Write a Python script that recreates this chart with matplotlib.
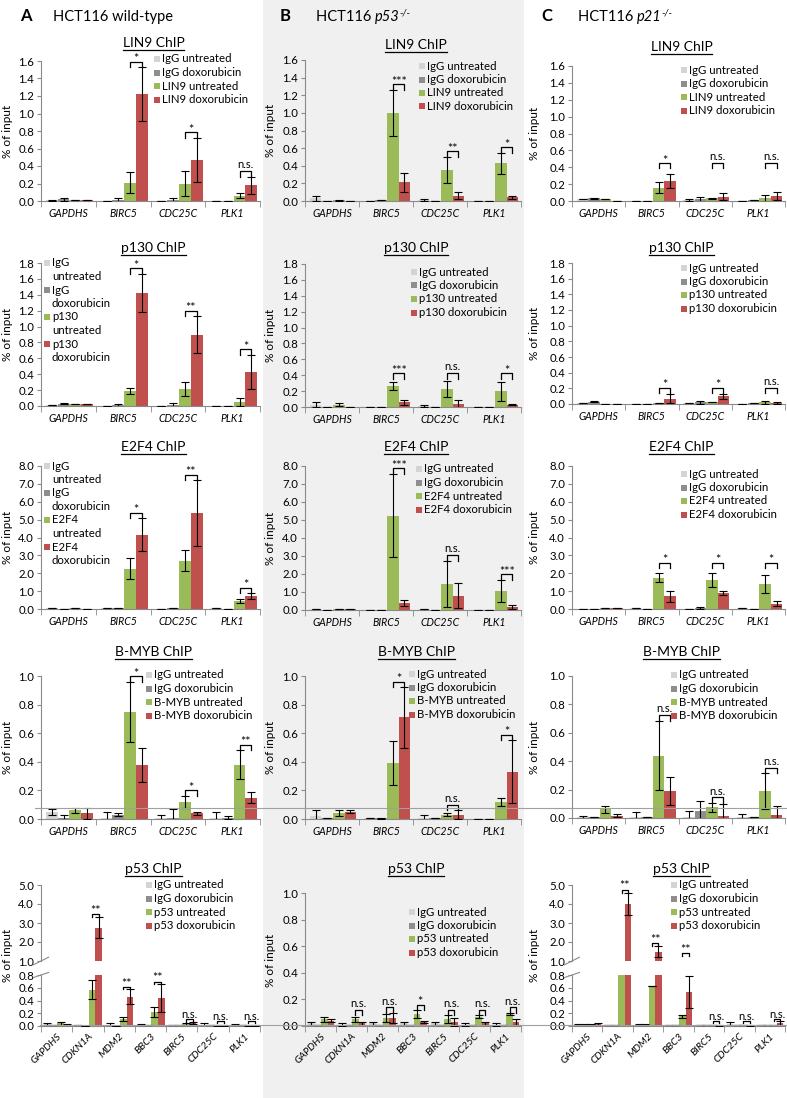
import numpy as np
import matplotlib
matplotlib.use('Agg')
import matplotlib.pyplot as plt
from matplotlib.patches import Rectangle
from matplotlib.lines import Line2D

plt.rcParams['font.family'] = ['Lato', 'DejaVu Sans']

W, H = 787, 1098

# ---- data ----
genes = ['GAPDHS', 'BIRC5', 'CDC25C', 'PLK1']
genes_p53 = ['GAPDHS', 'CDKN1A', 'MDM2', 'BBC3', 'BIRC5', 'CDC25C', 'PLK1']
series_names = ['IgG untreated', 'IgG doxorubicin', '{} untreated', '{} doxorubicin']
colors = ['#d4d4d4', '#8e8e8e', '#9bbb59', '#c0504d']

# rows: IgG untreated, IgG doxorubicin, antibody untreated, antibody doxorubicin
lin9_wt = [[0.01, 0.005, 0.005, 0.0], [0.02, 0.01, 0.01, 0.0], [0.01, 0.21, 0.20, 0.06], [0.01, 1.22, 0.47, 0.18]]
lin9_wt_err = [[0.005, 0.0, 0.0, 0.0], [0.02, 0.02, 0.03, 0.0], [0.0, 0.12, 0.14, 0.03], [0.0, 0.31, 0.25, 0.10]]
lin9_wt_sig = [None, '*', '*', 'n.s.']
lin9_p53 = [[0.03, 0.005, 0.01, 0.0], [0.005, 0.01, 0.005, 0.0], [0.01, 1.00, 0.35, 0.43], [0.005, 0.21, 0.06, 0.04]]
lin9_p53_err = [[0.03, 0.0, 0.015, 0.0], [0.0, 0.0, 0.0, 0.0], [0.005, 0.26, 0.15, 0.12], [0.0, 0.11, 0.04, 0.02]]
lin9_p53_sig = [None, '***', '**', '*']
lin9_p21 = [[0.02, 0.005, 0.01, 0.005], [0.03, 0.005, 0.02, 0.01], [0.02, 0.16, 0.03, 0.03], [0.005, 0.24, 0.05, 0.06]]
lin9_p21_err = [[0.0, 0.0, 0.01, 0.0], [0.01, 0.0, 0.03, 0.0], [0.0, 0.06, 0.01, 0.04], [0.0, 0.08, 0.04, 0.05]]
lin9_p21_sig = [None, '*', 'n.s.', 'n.s.']

p130_wt = [[0.01, 0.005, 0.005, 0.0], [0.03, 0.01, 0.01, 0.0], [0.02, 0.19, 0.21, 0.05], [0.02, 1.42, 0.90, 0.43]]
p130_wt_err = [[0.0, 0.0, 0.0, 0.0], [0.01, 0.02, 0.03, 0.0], [0.0, 0.04, 0.09, 0.05], [0.0, 0.24, 0.23, 0.21]]
p130_wt_sig = [None, '*', '**', '*']
p130_p53 = [[0.03, 0.005, 0.01, 0.0], [0.005, 0.005, 0.005, 0.0], [0.03, 0.26, 0.23, 0.20], [0.005, 0.06, 0.04, 0.03]]
p130_p53_err = [[0.03, 0.0, 0.01, 0.0], [0.0, 0.0, 0.0, 0.0], [0.02, 0.05, 0.10, 0.12], [0.0, 0.03, 0.05, 0.01]]
p130_p53_sig = [None, '***', 'n.s.', '*']
p130_p21 = [[0.01, 0.005, 0.01, 0.005], [0.03, 0.005, 0.02, 0.01], [0.005, 0.01, 0.02, 0.02], [0.005, 0.07, 0.10, 0.01]]
p130_p21_err = [[0.0, 0.0, 0.0, 0.0], [0.01, 0.0, 0.02, 0.0], [0.0, 0.0, 0.0, 0.02], [0.0, 0.06, 0.03, 0.01]]
p130_p21_sig = [None, '*', '*', 'n.s.']

e2f4_wt = [[0.05, 0.03, 0.02, 0.05], [0.02, 0.03, 0.05, 0.02], [0.03, 2.25, 2.70, 0.45], [0.02, 4.15, 5.35, 0.72]]
e2f4_wt_err = [[0.0, 0.0, 0.0, 0.0], [0.0, 0.0, 0.0, 0.0], [0.0, 0.58, 0.60, 0.12], [0.0, 0.92, 1.85, 0.15]]
e2f4_wt_sig = [None, '*', '**', '*']
e2f4_p53 = [[0.05, 0.02, 0.03, 0.0], [0.02, 0.02, 0.02, 0.0], [0.05, 5.25, 1.45, 1.05], [0.05, 0.38, 0.80, 0.18]]
e2f4_p53_err = [[0.0, 0.0, 0.0, 0.0], [0.0, 0.0, 0.0, 0.0], [0.0, 2.30, 1.28, 0.62], [0.0, 0.17, 0.70, 0.10]]
e2f4_p53_sig = [None, '***', 'n.s.', '***']
e2f4_p21 = [[0.02, 0.03, 0.02, 0.03], [0.02, 0.01, 0.05, 0.01], [0.03, 1.75, 1.62, 1.38], [0.05, 0.70, 0.88, 0.30]]
e2f4_p21_err = [[0.0, 0.0, 0.0, 0.0], [0.0, 0.0, 0.05, 0.0], [0.0, 0.25, 0.40, 0.50], [0.0, 0.30, 0.12, 0.12]]
e2f4_p21_sig = [None, '*', '*', '*']

bmyb_wt = [[0.05, 0.01, 0.01, 0.01], [0.01, 0.03, 0.01, 0.01], [0.06, 0.75, 0.12, 0.38], [0.04, 0.38, 0.04, 0.15]]
bmyb_wt_err = [[0.02, 0.04, 0.02, 0.04], [0.02, 0.01, 0.06, 0.01], [0.02, 0.21, 0.04, 0.10], [0.04, 0.12, 0.01, 0.04]]
bmyb_wt_sig = [None, '*', '*', '**']
bmyb_p53 = [[0.02, 0.005, 0.01, 0.0], [0.005, 0.005, 0.005, 0.0], [0.04, 0.39, 0.03, 0.12], [0.05, 0.71, 0.03, 0.33]]
bmyb_p53_err = [[0.04, 0.0, 0.015, 0.0], [0.0, 0.005, 0.0, 0.0], [0.02, 0.155, 0.01, 0.03], [0.01, 0.21, 0.03, 0.22]]
bmyb_p53_sig = [None, '*', 'n.s.', '*']
bmyb_p21 = [[0.005, 0.01, 0.01, 0.01], [0.01, 0.005, 0.05, 0.005], [0.06, 0.44, 0.075, 0.19], [0.015, 0.19, 0.015, 0.02]]
bmyb_p21_err = [[0.01, 0.03, 0.04, 0.015], [0.0, 0.0, 0.07, 0.0], [0.025, 0.245, 0.03, 0.125], [0.01, 0.10, 0.085, 0.065]]
bmyb_p21_sig = [None, 'n.s.', 'n.s.', 'n.s.']

p53_wt = [[0.03, 0.01, 0.02, 0.02, 0.01, 0.02, 0.01], [0.01, 0.005, 0.005, 0.01, 0.01, 0.01, 0.01],
          [0.04, 0.57, 0.11, 0.22, 0.03, 0.01, 0.01], [0.02, 2.75, 0.46, 0.44, 0.05, 0.01, 0.01]]
p53_wt_err = [[0.02, 0.0, 0.03, 0.01, 0.0, 0.03, 0.02], [0.0, 0.0, 0.0, 0.0, 0.0, 0.0, 0.0],
              [0.02, 0.15, 0.03, 0.08, 0.02, 0.01, 0.01], [0.01, 0.55, 0.12, 0.22, 0.02, 0.01, 0.01]]
p53_wt_sig = [None, '**', '**', '**', 'n.s.', 'n.s.', 'n.s.']
p53_p53 = [[0.02, 0.01, 0.02, 0.02, 0.02, 0.01, 0.01], [0.01, 0.005, 0.01, 0.01, 0.01, 0.01, 0.01],
           [0.05, 0.05, 0.06, 0.09, 0.05, 0.07, 0.09], [0.04, 0.02, 0.06, 0.03, 0.03, 0.02, 0.03]]
p53_p53_err = [[0.01, 0.01, 0.01, 0.01, 0.01, 0.01, 0.01], [0.0, 0.0, 0.0, 0.0, 0.0, 0.0, 0.0],
               [0.02, 0.02, 0.03, 0.03, 0.03, 0.01, 0.01], [0.01, 0.01, 0.04, 0.01, 0.03, 0.01, 0.02]]
p53_p53_sig = [None, 'n.s.', 'n.s.', '*', 'n.s.', 'n.s.', 'n.s.']
p53_p21 = [[0.02, 0.01, 0.02, 0.02, 0.01, 0.03, 0.01], [0.02, 0.01, 0.02, 0.01, 0.01, 0.01, 0.01],
           [0.02, 0.85, 0.62, 0.15, 0.01, 0.01, 0.01], [0.03, 4.00, 1.50, 0.53, 0.01, 0.01, 0.05]]
p53_p21_err = [[0.01, 0.0, 0.01, 0.0, 0.0, 0.04, 0.0], [0.01, 0.0, 0.01, 0.0, 0.0, 0.0, 0.0],
               [0.01, 0.0, 0.0, 0.03, 0.0, 0.0, 0.0], [0.01, 0.60, 0.30, 0.25, 0.01, 0.01, 0.03]]
p53_p21_sig = [None, '**', '**', '**', 'n.s.', 'n.s.', 'n.s.']

# ---- figure ----
fig = plt.figure(figsize=(W / 100, H / 100), dpi=100)
fig.patches.append(Rectangle((263 / W, 0), 261 / W, 1, transform=fig.transFigure,
                             facecolor='#f0f0f0', edgecolor='none', zorder=-10))
renderer = fig.canvas.get_renderer()

SPINE = '#8a8a8a'
TICK_FS = 8.2


def add_ax(x0, ytop, x1, ybot):
    ax = fig.add_axes([x0 / W, 1 - ybot / H, (x1 - x0) / W, (ybot - ytop) / H])
    ax.set_facecolor('none')
    return ax


def draw_bars(ax, names, mean, err, ylim):
    n = len(names)
    x = np.arange(n) + 0.02
    w = 0.215
    offs = [-1.5 * w, -0.5 * w, 0.5 * w, 1.5 * w]
    for k in range(4):
        ax.bar(x + offs[k], mean[k], width=w, color=colors[k], zorder=2)
        ax.errorbar(x + offs[k], mean[k], yerr=err[k], fmt='none', ecolor='black',
                    elinewidth=0.8, capsize=2.6, capthick=0.8, zorder=3)
    ax.set_xlim(-0.5, n - 0.5)
    ax.set_ylim(*ylim)
    for s in ['top', 'right']:
        ax.spines[s].set_visible(False)
    for s in ['left', 'bottom']:
        ax.spines[s].set_color(SPINE)
        ax.spines[s].set_linewidth(0.8)
    ax.tick_params(axis='y', direction='out', length=3, color=SPINE, labelsize=TICK_FS, pad=2)
    ax.yaxis.set_major_formatter('{x:.1f}')
    return x, offs


def brackets(axes, xc, offs, mean, err, sig, floor=0.0):
    # axes: list of (ax, ylim) from lowest to highest; the bracket goes on the first that fits
    for i, s in enumerate(sig):
        if s is None:
            continue
        top = max(mean[2][i] + err[2][i], mean[3][i] + err[3][i])
        for ax, ylim in axes:
            if top < ylim[1] * 0.9 or ax is axes[-1][0]:
                break
        rng = ylim[1] - ylim[0]
        yb = max(top + 0.04 * rng, floor, ylim[0] + 0.1 * rng)
        x1, x2 = xc[i] + offs[2], xc[i] + offs[3]
        d = 0.04 * rng
        ax.plot([x1, x1, x2, x2], [yb - d, yb, yb, yb - d], color='black', lw=0.9,
                clip_on=False, zorder=4)
        if s.startswith('*'):
            # asterisks sit high in the font, so drop the baseline a little
            ax.text((x1 + x2) / 2, yb - 0.012 * rng, s, ha='center', va='baseline',
                    fontsize=9, clip_on=False)
        else:
            ax.text((x1 + x2) / 2, yb + 0.02 * rng, s, ha='center', va='baseline',
                    fontsize=8, clip_on=False)


def xlabels(ax, names, rot=False):
    n = len(names)
    ax.set_xticks(np.arange(n))
    if rot:
        ax.set_xticklabels(names, rotation=45, ha='right', rotation_mode='anchor',
                           fontstyle='italic', fontsize=7.3)
        ax.tick_params(axis='x', length=0, pad=4)
    else:
        ax.set_xticklabels(names, fontstyle='italic', fontsize=7.6)
        ax.tick_params(axis='x', length=0, pad=5)
    ax.set_xticks(np.arange(n + 1) - 0.5, minor=True)
    ax.tick_params(axis='x', which='minor', length=4, direction='out', color=SPINE)


def legend(ab, pos, wrap=False, step=13.5):
    # hand-built legend: square beside the first line of each label
    x, y = pos
    for lab, c in zip(series_names, colors):
        lab = lab.format(ab)
        lines = lab.split(' ', 1) if wrap else [lab]
        fig.patches.append(Rectangle((x / W, 1 - (y + 3) / H), 6 / W, 6 / H,
                                     transform=fig.transFigure, facecolor=c, edgecolor='none'))
        for ln in lines:
            fig.text((x + 8) / W, 1 - y / H, ln, fontsize=TICK_FS, ha='left', va='center')
            y += step


titles = []


def title(x, y, s):
    t = fig.text(x / W, 1 - y / H, s, ha='center', va='center', fontsize=10)
    titles.append(t)


def ylabel(x, y):
    fig.text(x / W, 1 - y / H, '% of input', rotation=90, ha='center', va='center', fontsize=8.5)


def panel(col, ytop, ybot, mean, err, sig, ylim, step, ab, legpos, ttl, wrap=False, floor=0.0):
    x0, x1 = COLS[col]
    ax = add_ax(x0, ytop, x1, ybot)
    xc, offs = draw_bars(ax, genes, mean, err, ylim)
    ax.set_yticks(np.arange(ylim[0], ylim[1] + step / 2, step))
    brackets([(ax, ylim)], xc, offs, mean, err, sig, floor)
    xlabels(ax, genes)
    ylabel(YLX[col], (ytop + ybot) / 2)
    legend(ab, legpos, wrap)
    title((x0 + x1) / 2 + 3, ttl, ab + ' ChIP')
    return ax


COLS = [(41, 260), (305, 521), (572, 785)]
YLX = [8, 271, 534]

# row 1 LIN9
panel(0, 61, 201, lin9_wt, lin9_wt_err, lin9_wt_sig, (0, 1.6), 0.2, 'LIN9', (154, 59), 43)
panel(1, 60, 201, lin9_p53, lin9_p53_err, lin9_p53_sig, (0, 1.6), 0.2, 'LIN9', (419, 66), 45)
panel(2, 66, 201, lin9_p21, lin9_p21_err, lin9_p21_sig, (0, 1.6), 0.2, 'LIN9', (681, 70), 47, floor=0.45)
# row 2 p130
panel(0, 263, 406, p130_wt, p130_wt_err, p130_wt_sig, (0, 1.8), 0.2, 'p130', (44, 263), 248, wrap=True)
panel(1, 264, 407, p130_p53, p130_p53_err, p130_p53_sig, (0, 1.8), 0.2, 'p130', (411, 272), 248, floor=0.43)
panel(2, 263, 404, p130_p21, p130_p21_err, p130_p21_sig, (0, 1.8), 0.2, 'p130', (681, 268), 248, floor=0.21)
# row 3 E2F4
panel(0, 466, 609, e2f4_wt, e2f4_wt_err, e2f4_wt_sig, (0, 8.0), 1.0, 'E2F4', (44, 466), 447, wrap=True)
panel(1, 466, 610, e2f4_p53, e2f4_p53_err, e2f4_p53_sig, (0, 8.0), 1.0, 'E2F4', (416, 469), 447)
panel(2, 466, 609, e2f4_p21, e2f4_p21_err, e2f4_p21_sig, (0, 8.0), 1.0, 'E2F4', (681, 474), 447, floor=2.6)
# row 4 B-MYB
panel(0, 676, 819, bmyb_wt, bmyb_wt_err, bmyb_wt_sig, (0, 1.0), 0.2, 'B-MYB', (146, 675), 652)
panel(1, 676, 819, bmyb_p53, bmyb_p53_err, bmyb_p53_sig, (0, 1.0), 0.2, 'B-MYB', (409, 674), 652)
panel(2, 676, 818, bmyb_p21, bmyb_p21_err, bmyb_p21_sig, (0, 1.0), 0.2, 'B-MYB', (671, 675), 652)


# row 5 p53 - broken axes in A and C
def broken_panel(col, mean, err, sig, legpos):
    x0, x1 = COLS[col]
    up = add_ax(x0, 885, x1, 961)
    lo = add_ax(x0, 975, x1, 1026)
    xc, offs = draw_bars(up, genes_p53, mean, err, (1.0, 5.0))
    draw_bars(lo, genes_p53, mean, err, (0.0, 0.8))
    up.set_yticks(np.arange(1.0, 5.01, 1.0))
    lo.set_yticks(np.arange(0.0, 0.81, 0.2))
    up.spines['bottom'].set_visible(False)
    up.set_xticks([])
    xlabels(lo, genes_p53, rot=True)
    brackets([(lo, (0.0, 0.8)), (up, (1.0, 5.0))], xc, offs, mean, err, sig)
    for ax, yy in [(up, 0.0), (lo, 1.0)]:
        ax.plot([-0.035, 0.035], [yy - 0.05, yy + 0.05], transform=ax.transAxes, color=SPINE,
                lw=0.8, clip_on=False)
    ylabel(YLX[col], 955)
    legend('p53', legpos)
    title((x0 + x1) / 2 + 3, 869, 'p53 ChIP')


broken_panel(0, p53_wt, p53_wt_err, p53_wt_sig, (146, 885))
broken_panel(2, p53_p21, p53_p21_err, p53_p21_sig, (671, 885))

ax = add_ax(COLS[1][0], 893, COLS[1][1], 1026)
xc, offs = draw_bars(ax, genes_p53, p53_p53, p53_p53_err, (0, 1.0))
ax.set_yticks(np.arange(0, 1.01, 0.2))
brackets([(ax, (0, 1.0))], xc, offs, p53_p53, p53_p53_err, p53_p53_sig, floor=0.12)
xlabels(ax, genes_p53, rot=True)
ylabel(YLX[1], 960)
legend('p53', (409, 912))
title((COLS[1][0] + COLS[1][1]) / 2 + 3, 869, 'p53 ChIP')

# thin gray lines running across the figure
fig.add_artist(Line2D([35 / W, 1], [1 - 808 / H] * 2, color='#a0a0a0', lw=0.8))
fig.add_artist(Line2D([40 / W, 1], [1 - 1025 / H] * 2, color='#a0a0a0', lw=0.8))


# column headers, built from text runs
def runs(x, y, parts):
    for txt, kw, dy in parts:
        t = fig.text(x / W, 1 - (y + dy) / H, txt, ha='left', va='baseline', **kw)
        x += t.get_window_extent(renderer).width


HDR = dict(fontsize=10.5)
for letter, lx, tx, parts in [
        ('A', 20, 53, [('HCT116 wild-type', HDR, 0)]),
        ('B', 280, 316, [('HCT116 ', HDR, 0), ('p53', dict(fontsize=10.5, fontstyle='italic'), 0),
                         ('-/-', dict(fontsize=7, fontstyle='italic'), -5)]),
        ('C', 541, 578, [('HCT116 ', HDR, 0), ('p21', dict(fontsize=10.5, fontstyle='italic'), 0),
                         ('-/-', dict(fontsize=7, fontstyle='italic'), -5)])]:
    fig.text(lx / W, 1 - 21 / H, letter, fontsize=12, fontweight='bold', ha='left', va='baseline')
    runs(tx, 21, parts)

# underline the chip titles
fig.canvas.draw()
for t in titles:
    bb = t.get_window_extent(renderer)
    y = (bb.y0 - 0.5) / H
    fig.add_artist(Line2D([bb.x0 / W, bb.x1 / W], [y, y], color='black', lw=0.9))

fig.savefig('out.png', dpi=100)
